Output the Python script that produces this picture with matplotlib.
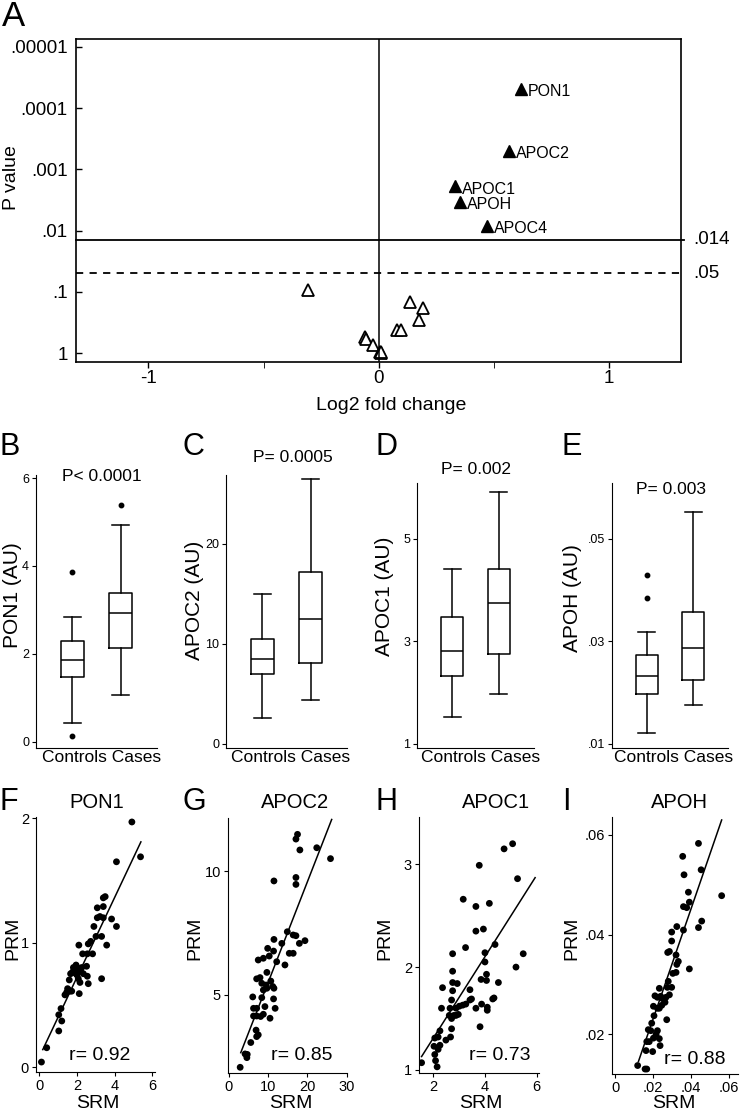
import matplotlib
matplotlib.use('Agg')
import matplotlib.pyplot as plt
import numpy as np
from matplotlib.ticker import NullLocator, FixedLocator

plt.rcParams['font.family'] = 'Liberation Sans'

# ---- panel A: volcano plot ----
up_names = ['PON1', 'APOC2', 'APOC1', 'APOH', 'APOC4']
up_fc = [0.62, 0.568, 0.334, 0.355, 0.472]
up_p = [4.8e-5, 5.0e-4, 0.0019, 0.0034, 0.0084]
ns_fc = [-0.306, 0.137, 0.193, 0.174, 0.082, 0.098, -0.057, -0.055, -0.025, 0.006, 0.01, 0.012]
ns_p = [0.095, 0.149, 0.185, 0.286, 0.417, 0.417, 0.55, 0.58, 0.73, 0.96, 1.0, 0.98]
p_cut = 0.014
p_nominal = 0.05
a_yticks = [1e-5, 1e-4, 1e-3, 1e-2, 1e-1, 1]
a_ylabels = ['.00001', '.0001', '.001', '.01', '.1', '1']
a_xticks = [-1, 0, 1]

# ---- panels B-E: boxplots  [whislo, q1, med, q3, whishi] ----
box_names = ['PON1', 'APOC2', 'APOC1', 'APOH']
box_letters = ['B', 'C', 'D', 'E']
box_pvals = ['P< 0.0001', 'P= 0.0005', 'P= 0.002', 'P= 0.003']
ctrl_stats = [[0.43, 1.48, 1.86, 2.30, 2.84],
              [2.6, 7.0, 8.5, 10.5, 15.0],
              [1.52, 2.32, 2.81, 3.47, 4.42],
              [0.0121, 0.0197, 0.0232, 0.0273, 0.0319]]
ctrl_out = [[3.86, 0.14], [], [], [0.043, 0.0385]]
case_stats = [[1.07, 2.14, 2.93, 3.39, 4.93],
              [4.4, 8.1, 12.5, 17.2, 26.5],
              [1.97, 2.75, 3.74, 4.42, 5.91],
              [0.0176, 0.0224, 0.0288, 0.0358, 0.0553]]
case_out = [[5.39], [], [], []]
box_yticks = [[0, 2, 4, 6], [0, 10, 20], [1, 3, 5], [0.01, 0.03, 0.05]]
box_ytlabels = [['0', '2', '4', '6'], ['0', '10', '20'], ['1', '3', '5'], ['.01', '.03', '.05']]
box_ylims = [(-0.14, 6.07), (-0.4, 26.9), (0.92, 6.09), (0.0092, 0.0609)]

# ---- panels F-I: SRM vs PRM ----
srm_pon1 = [0.11, 0.39, 1.03, 1.19, 1.03, 1.15, 1.36, 1.45, 1.54, 1.63, 1.72, 1.59, 1.66, 1.81, 1.95,
            2.04, 1.84, 2.16, 1.95, 2.07, 2.16, 2.12, 2.25, 2.51, 2.55, 2.30, 2.10, 2.55, 2.60, 2.73,
            2.83, 2.60, 2.34, 2.90, 3.01, 3.08, 3.22, 3.08, 3.31, 3.31, 3.40, 3.40, 3.40, 3.50, 3.58,
            3.84, 4.10, 4.10, 4.92, 5.38, 1.75, 1.88, 2.0, 1.5, 2.2]
prm_pon1 = [0.04, 0.155, 0.29, 0.37, 0.42, 0.47, 0.58, 0.60, 0.62, 0.61, 0.61, 0.70, 0.75, 0.80, 0.82,
            0.79, 0.78, 0.79, 0.75, 0.71, 0.68, 0.59, 0.80, 0.81, 0.73, 0.91, 0.98, 0.91, 0.99, 1.01,
            0.91, 0.67, 0.75, 1.13, 1.05, 1.20, 1.21, 1.28, 1.05, 0.71, 1.20, 1.29, 1.36, 1.37, 0.98,
            1.19, 1.13, 1.65, 1.97, 1.69, 0.76, 0.77, 0.74, 0.63, 0.77]
srm_apoc2 = [2.9, 4.6, 4.15, 4.7, 5.6, 7.1, 7.5, 6.95, 6.3, 7.1, 6.3, 7.1, 8.1, 8.8, 9.2, 10.5, 11.8,
             6.1, 8.4, 8.8, 9.7, 11.2, 11.5, 11.4, 7.1, 7.95, 8.4, 9.5, 9.7, 10.7, 7.5, 8.8, 10.3, 9.9,
             11.4, 11.5, 12.2, 13.5, 14.3, 14.9, 15.4, 16.4, 16.4, 17.1, 17.97, 19.4, 11.5, 17.1, 17.1,
             17.1, 17.5, 18.1, 22.4, 25.9]
prm_apoc2 = [2.08, 2.47, 2.62, 2.6, 3.08, 3.32, 3.39, 3.58, 4.15, 4.15, 4.46, 4.46, 4.13, 4.22, 4.53,
             4.06, 4.46, 4.92, 4.89, 5.2, 5.27, 5.34, 5.27, 4.84, 5.65, 5.7, 5.47, 5.4, 5.91, 5.56, 6.41,
             6.48, 6.57, 6.88, 6.77, 7.24, 6.34, 7.08, 6.21, 7.55, 6.68, 6.68, 7.42, 7.39, 7.08, 7.19,
             9.6, 9.74, 9.46, 11.29, 11.48, 10.85, 10.94, 10.5]
srm_apoc1 = [1.55, 2.03, 2.09, 2.15, 2.06, 2.19, 2.26, 2.06, 2.19, 2.26, 2.49, 2.67, 2.71, 2.71, 2.62,
             2.8, 2.88, 2.97, 2.32, 2.65, 2.88, 3.01, 3.14, 3.26, 3.48, 3.42, 3.65, 3.87, 4.09, 4.09,
             3.81, 2.71, 2.75, 2.75, 2.93, 2.36, 2.75, 2.75, 3.25, 3.85, 4.06, 4.06, 4.0, 4.0, 3.94,
             3.65, 4.39, 4.52, 4.35, 4.3, 5.2, 5.48, 3.16, 3.65, 4.17, 3.78, 4.74, 5.07, 5.26, 3.42]
prm_apoc1 = [1.07, 1.23, 1.09, 1.03, 1.15, 1.2, 1.24, 1.31, 1.32, 1.38, 1.29, 1.32, 1.4, 1.5, 1.53,
             1.53, 1.53, 1.54, 1.6, 1.6, 1.6, 1.62, 1.63, 1.64, 1.69, 1.78, 1.6, 1.64, 1.58, 1.61,
             1.42, 1.68, 1.77, 1.85, 1.84, 1.8, 1.96, 2.13, 2.19, 1.88, 1.93, 1.87, 2.05, 2.14, 2.37,
             2.35, 2.22, 1.85, 1.7, 1.69, 2.0, 2.13, 2.66, 2.59, 2.62, 2.99, 3.15, 3.2, 2.86, 1.68]
srm_apoh = [0.0119, 0.0158, 0.0167, 0.0163, 0.0167, 0.018, 0.0198, 0.0202, 0.0216, 0.0233, 0.0237,
            0.0223, 0.0175, 0.0188, 0.0193, 0.0205, 0.0202, 0.021, 0.0223, 0.0233, 0.0246, 0.0223,
            0.024, 0.0251, 0.0233, 0.0263, 0.0272, 0.0275, 0.0268, 0.0286, 0.0298, 0.0304, 0.0321,
            0.0325, 0.0333, 0.0277, 0.0286, 0.0298, 0.0298, 0.0325, 0.0321, 0.0391, 0.036, 0.036,
            0.0377, 0.0391, 0.0386, 0.0439, 0.0456, 0.0363, 0.0356, 0.0439, 0.0453, 0.0561, 0.028]
prm_apoh = [0.0137, 0.013, 0.013, 0.0167, 0.0185, 0.0185, 0.0165, 0.0192, 0.02, 0.0191, 0.0177,
            0.0207, 0.0209, 0.0207, 0.0222, 0.0237, 0.0256, 0.0277, 0.0252, 0.0252, 0.0258, 0.0274,
            0.0276, 0.0271, 0.0292, 0.0264, 0.0229, 0.0294, 0.0274, 0.0279, 0.0294, 0.0322, 0.0324,
            0.034, 0.0346, 0.0364, 0.0366, 0.0387, 0.0405, 0.0416, 0.0359, 0.0331, 0.0409, 0.0456,
            0.0454, 0.0465, 0.0485, 0.0414, 0.0427, 0.052, 0.0557, 0.0583, 0.053, 0.0478, 0.0306]
fit_x = [[0.18, 5.4], [3.05, 26.2], [1.55, 5.94], [0.0123, 0.0561]]
fit_y = [[0.14, 1.81], [2.67, 12.08], [1.13, 2.87], [0.0145, 0.063]]
r_values = ['r= 0.92', 'r= 0.85', 'r= 0.73', 'r= 0.88']
sc_letters = ['F', 'G', 'H', 'I']
sc_xticks = [[0, 2, 4, 6], [0, 10, 20, 30], [2, 4, 6], [0, 0.02, 0.04, 0.06]]
sc_xtlabels = [['0', '2', '4', '6'], ['0', '10', '20', '30'], ['2', '4', '6'], ['0', '.02', '.04', '.06']]
sc_yticks = [[0, 1, 2], [5, 10], [1, 2, 3], [0.02, 0.04, 0.06]]
sc_ytlabels = [['0', '1', '2'], ['5', '10'], ['1', '2', '3'], ['.02', '.04', '.06']]
sc_xlims = [(-0.18, 6.15), (-0.2, 30.1), (1.45, 6.09), (-0.0016, 0.0647)]
sc_ylims = [(-0.04, 2.01), (1.85, 12.14), (0.97, 3.46), (0.012, 0.0636)]
srm_all = [srm_pon1, srm_apoc2, srm_apoc1, srm_apoh]
prm_all = [prm_pon1, prm_apoc2, prm_apoc1, prm_apoh]

W, H = 740, 1114
fig = plt.figure(figsize=(W / 100, H / 100), dpi=100)


def px_box(l, t, r, b):
    return [l / W, 1 - b / H, (r - l) / W, (b - t) / H]


def ftext(x, y, s, **kw):
    fig.text(x / W, 1 - y / H, s, **kw)


# ---------------- A ----------------
ax = fig.add_axes(px_box(76, 39, 681, 362))
ax.plot(ns_fc, ns_p, '^', ms=8, mfc='white', mec='black', mew=1.3, ls='none')
ax.plot(up_fc, up_p, '^', ms=8, color='black', ls='none')
for name, x, y in zip(up_names, up_fc, up_p):
    ax.annotate(name, (x, y), xytext=(5, -2), textcoords='offset points',
                va='center', ha='left', fontsize=11.5)
ax.axhline(p_cut, color='black', lw=1.3, xmax=1.005, clip_on=False)
ax.axhline(p_nominal, color='black', lw=1.3, ls=(0, (4, 3.5)))
ax.axvline(0, color='black', lw=1.1)
ax.set_yscale('log')
ax.set_ylim(10 ** 0.147, 10 ** -5.13)
ax.set_xlim(-1.315, 1.314)
ax.yaxis.set_major_locator(FixedLocator(a_yticks))
ax.set_yticklabels(a_ylabels)
ax.yaxis.set_minor_locator(NullLocator())
ax.set_xticks(a_xticks)
ax.set_xticklabels(['-1', '0', '1'])
ax.xaxis.set_minor_locator(FixedLocator([-0.5, 0.5]))
ax.tick_params(axis='both', labelsize=13.5, width=1, length=4)
ax.tick_params(axis='y', direction='in', pad=6)
ax.tick_params(axis='x', which='both', direction='out', length=4, pad=2)
for s in ax.spines.values():
    s.set_linewidth(1.2)
ax.text(1.02, p_cut, '.014', transform=ax.get_yaxis_transform(), va='center', ha='left', fontsize=13.5)
ax.text(1.02, p_nominal, '.05', transform=ax.get_yaxis_transform(), va='center', ha='left', fontsize=13.5)
ftext(2, 0, 'A', fontsize=25, va='top', ha='left')
ftext(12, 178, 'P value', rotation=90, fontsize=14, ha='center', va='center')
ftext(391, 405, 'Log2 fold change', fontsize=14, ha='center', va='center')

# ---------------- B-E ----------------
box_px = [(36, 475, 157, 748), (226, 475, 347, 748), (417, 483, 534, 748), (612, 483, 728, 748)]
letter_px = [(0, 447), (182, 447), (375, 447), (562, 447)]
ptext_px = [(102, 476), (293, 458), (476, 470), (671, 490)]
ylab_px = [(13, 595), (195, 600), (385, 596), (572, 598)]
xlab_px = [(102, 758), (291, 758), (481, 758), (674, 758)]
for i in range(4):
    ax = fig.add_axes(px_box(*box_px[i]))
    stats = []
    for st, out in [(ctrl_stats[i], ctrl_out[i]), (case_stats[i], case_out[i])]:
        stats.append(dict(whislo=st[0], q1=st[1], med=st[2], q3=st[3], whishi=st[4], fliers=out))
    ax.bxp(stats, positions=[1, 2], widths=0.48, capwidths=0.36, showfliers=True,
           boxprops=dict(color='black', lw=1.1), whiskerprops=dict(color='black', lw=1.1),
           capprops=dict(color='black', lw=1.1), medianprops=dict(color='black', lw=1.1),
           flierprops=dict(marker='o', ms=3.2, mfc='black', mec='black'))
    ax.set_xlim(0.25, 2.75)
    ax.set_ylim(*box_ylims[i])
    ax.set_xticks([])
    ax.set_yticks(box_yticks[i])
    ax.set_yticklabels(box_ytlabels[i])
    ax.tick_params(axis='y', labelsize=9, length=3, direction='out', pad=2)
    ax.spines['top'].set_visible(False)
    ax.spines['right'].set_visible(False)
    ftext(*letter_px[i], box_letters[i], fontsize=22, ha='left', va='center')
    ftext(*ptext_px[i], box_pvals[i], fontsize=12.5, ha='center', va='center')
    ftext(*ylab_px[i], box_names[i] + ' (AU)', rotation=90, fontsize=15, ha='center', va='center')
    ftext(*xlab_px[i], 'Controls Cases', fontsize=12.5, ha='center', va='center')

# ---------------- F-I ----------------
sc_px = [(36, 817, 155, 1072), (228, 818, 347, 1073), (419, 817, 539, 1073), (612, 817, 738, 1074)]
sc_letter_px = [(0, 802), (182, 802), (375, 802), (562, 802)]
title_px = [(97, 803), (295, 802), (496, 802), (679, 802)]
r_px = [(100, 1056), (302, 1055), (500, 1055), (695, 1060)]
prm_px = [(13, 938), (195, 938), (385, 938), (572, 938)]
srm_px = [(98, 1104), (291, 1104), (481, 1104), (674, 1104)]
for i in range(4):
    ax = fig.add_axes(px_box(*sc_px[i]))
    ax.scatter(srm_all[i], prm_all[i], s=24, color='black', edgecolors='none')
    ax.plot(fit_x[i], fit_y[i], color='black', lw=1.1)
    ax.set_xlim(*sc_xlims[i])
    ax.set_ylim(*sc_ylims[i])
    ax.set_xticks(sc_xticks[i])
    ax.set_xticklabels(sc_xtlabels[i])
    ax.set_yticks(sc_yticks[i])
    ax.set_yticklabels(sc_ytlabels[i])
    ax.tick_params(labelsize=10.5, length=3, direction='out', pad=2)
    ax.spines['top'].set_visible(False)
    ax.spines['right'].set_visible(False)
    ftext(*sc_letter_px[i], sc_letters[i], fontsize=22, ha='left', va='center')
    ftext(*title_px[i], box_names[i], fontsize=14.5, ha='center', va='center')
    ftext(*r_px[i], r_values[i], fontsize=14, ha='center', va='center')
    ftext(*prm_px[i], 'PRM', rotation=90, fontsize=14, ha='center', va='center')
    ftext(*srm_px[i], 'SRM', fontsize=14, ha='center', va='center')

fig.savefig('out.png', dpi=100)
